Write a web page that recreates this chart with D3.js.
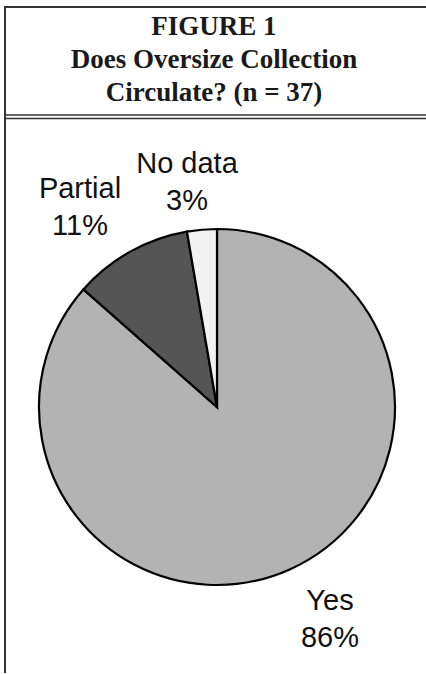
<!DOCTYPE html>
<html>
<head>
<meta charset="utf-8">
<script src="https://cdn.jsdelivr.net/npm/d3@7"></script>
<style>
  html, body { margin: 0; padding: 0; background: #fff; }
  svg { display: block; }
</style>
</head>
<body>
<svg id="chart" width="426" height="674"></svg>
<script>
// Survey answers (n = 37)
const categories = ["Yes", "Partial", "No data"];
const counts = [32, 4, 1];
const percentLabels = ["86%", "11%", "3%"];
const titleLines = ["FIGURE 1", "Does Oversize Collection", "Circulate? (n = 37)"];

const fills = ["#b3b3b3", "#555555", "#f2f2f2"];

const svg = d3.select("#chart");
const W = 426, H = 674;

// Frame: top rule, left rule, double rule under the title
const frame = svg.append("g").attr("stroke", "#333").attr("fill", "none");
frame.append("line").attr("x1", 4).attr("x2", W).attr("y1", 7).attr("y2", 7).attr("stroke-width", 2);
frame.append("line").attr("x1", 5).attr("x2", 5).attr("y1", 6).attr("y2", 673).attr("stroke-width", 2);
frame.append("line").attr("x1", 5).attr("x2", W).attr("y1", 115).attr("y2", 115).attr("stroke-width", 1.5);
frame.append("line").attr("x1", 5).attr("x2", W).attr("y1", 118.5).attr("y2", 118.5).attr("stroke-width", 1.5);

// Title
svg.append("g")
  .selectAll("text")
  .data(titleLines)
  .join("text")
  .attr("x", 214)
  .attr("y", (d, i) => 35 + i * 33)
  .attr("text-anchor", "middle")
  .attr("font-family", "'Liberation Serif', 'Times New Roman', serif")
  .attr("font-weight", "bold")
  .attr("font-size", 27)
  .attr("fill", "#1a1a1a")
  .text(d => d);

// Pie
const cx = 217, cy = 407, r = 178;
const pie = d3.pie().sort(null).value(d => d)(counts);
const arc = d3.arc().innerRadius(0).outerRadius(r);

svg.append("g")
  .attr("transform", `translate(${cx},${cy})`)
  .selectAll("path")
  .data(pie)
  .join("path")
  .attr("d", arc)
  .attr("fill", (d, i) => fills[i])
  .attr("stroke", "#000")
  .attr("stroke-width", 2.2)
  .attr("stroke-linejoin", "miter");

// Slice labels (name over percentage)
const labelPos = [
  { x: 330, y: 610 },
  { x: 80, y: 198 },
  { x: 187, y: 173 }
];
const labels = svg.append("g")
  .attr("font-family", "'Liberation Sans', Arial, sans-serif")
  .attr("font-size", 29)
  .attr("fill", "#111")
  .attr("text-anchor", "middle");
categories.forEach((c, i) => {
  const t = labels.append("text").attr("x", labelPos[i].x).attr("y", labelPos[i].y);
  t.append("tspan").attr("x", labelPos[i].x).text(c);
  t.append("tspan").attr("x", labelPos[i].x).attr("dy", 37).text(percentLabels[i]);
});
</script>
</body>
</html>
